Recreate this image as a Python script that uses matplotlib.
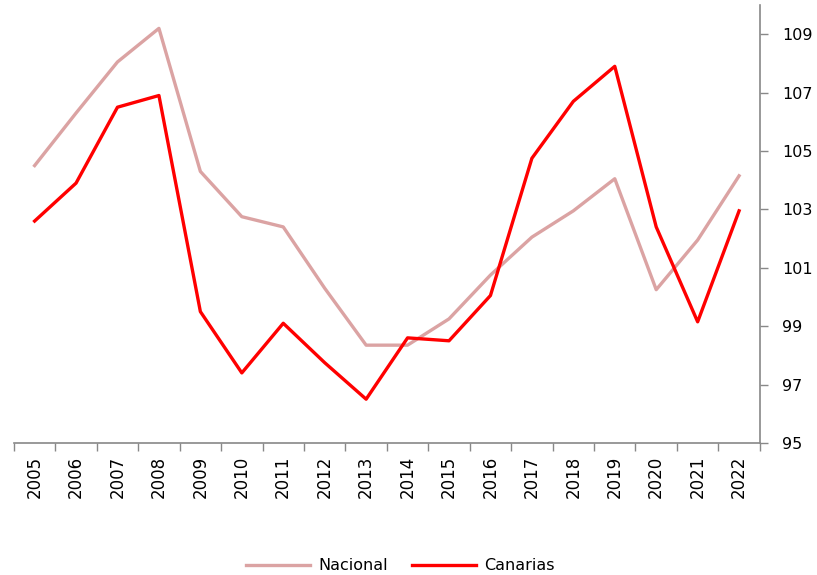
import matplotlib.pyplot as plt
import numpy as np

years = [str(y) for y in range(2005, 2023)]
nacional = [104.5, 106.3, 108.05, 109.2, 104.3, 102.75, 102.4, 100.3, 98.35,
            98.35, 99.25, 100.75, 102.05, 102.95, 104.05, 100.25, 101.95, 104.15]
canarias = [102.6, 103.9, 106.5, 106.9, 99.5, 97.4, 99.1, 97.75, 96.5,
            98.6, 98.5, 100.05, 104.75, 106.7, 107.9, 102.4, 99.15, 102.95]


def main():
  fig = plt.figure(figsize=(8.17, 5.75), dpi=100)
  ax = fig.add_axes([0.017, 0.2296, 0.913, 0.7617])
  x = np.arange(len(years))
  ax.plot(x, nacional, color='#DBA3A3', lw=2.4, label='Nacional')
  ax.plot(x, canarias, color='#FF0000', lw=2.4, label='Canarias')

  ax.set_xlim(-0.5, len(years) - 0.5)
  ax.set_ylim(95, 110)
  ax.yaxis.tick_right()
  ax.set_yticks(np.arange(95, 110, 2))
  ax.tick_params(axis='y', direction='out', length=6, width=1, color='#888888',
                 labelsize=11.5, pad=10)

  ax.set_xticks(np.arange(-0.5, len(years), 1))
  ax.set_xticklabels([])
  ax.set_xticks(x, minor=True)
  ax.set_xticklabels(years, minor=True, rotation=90, fontsize=12)
  ax.tick_params(axis='x', which='major', direction='out', length=6, width=1,
                 color='#888888')
  ax.tick_params(axis='x', which='minor', length=0, pad=9)

  for s in ['top', 'left']:
    ax.spines[s].set_visible(False)
  for s in ['right', 'bottom']:
    ax.spines[s].set_color('#888888')
    ax.spines[s].set_linewidth(1.2)

  fig.legend(loc='lower center', bbox_to_anchor=(0.49, -0.022), ncol=2,
             frameon=False, fontsize=11.5, handlelength=4, columnspacing=1.5,
             handletextpad=0.5)
  fig.savefig('out.png', dpi=100)


if __name__ == '__main__':
  main()
